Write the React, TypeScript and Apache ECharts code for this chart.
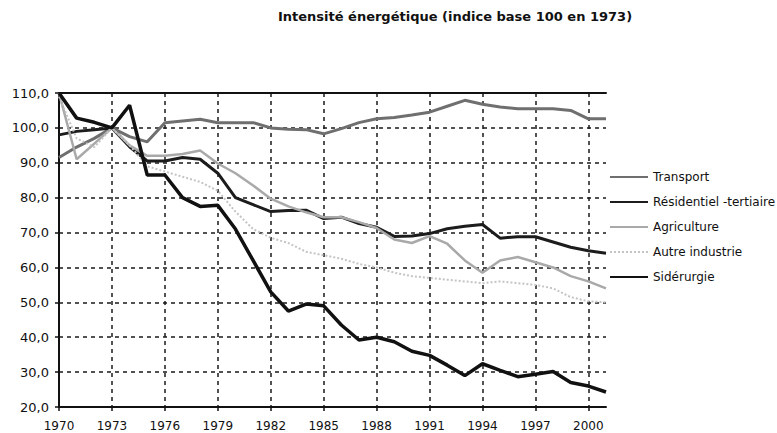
import React, { useEffect, useRef } from "react";
import * as echarts from "echarts";

const years = [
  "1970", "1971", "1972", "1973", "1974", "1975", "1976", "1977", "1978", "1979",
  "1980", "1981", "1982", "1983", "1984", "1985", "1986", "1987", "1988", "1989",
  "1990", "1991", "1992", "1993", "1994", "1995", "1996", "1997", "1998", "1999",
  "2000", "2001",
];

const transport = [
  91.5, 94.5, 97, 100, 97.5, 96, 101.5, 102, 102.5, 101.5,
  101.5, 101.5, 100, 99.6, 99.5, 98.3, 99.8, 101.5, 102.6, 103,
  103.7, 104.5, 106.2, 107.9, 106.8, 106, 105.5, 105.5, 105.5, 105,
  102.6, 102.6,
];

const residentiel = [
  98, 99, 99.5, 100, 94.6, 90.5, 90.5, 91.5, 91, 87,
  80, 78, 76, 76.3, 76.4, 74, 74.4, 72.6, 71.5, 68.9,
  69, 69.7, 71.1, 71.8, 72.3, 68.4, 68.8, 68.8, 67.3, 65.8,
  64.8, 64.1,
];

const agriculture = [
  110, 91, 95.5, 100, 95, 92, 92, 92.5, 93.5, 89.8,
  87, 83.5, 79.7, 77.5, 75.8, 74.4, 74.4, 73, 71.3, 68,
  67, 69, 66.8, 62, 58.5, 62, 63, 61.5, 60, 57.5,
  56, 54,
];

const autreIndustrie = [
  109, 97, 94.5, 100, 95, 89, 87.5, 86, 84.5, 82,
  76, 71, 68.5, 67, 64.5, 63.5, 62.5, 61, 60, 58.5,
  57.5, 57, 56.5, 56, 55.5, 56, 55.5, 55, 54, 51.5,
  50.3, 50,
];

const siderurgie = [
  110, 102.8, 101.6, 100, 106.5, 86.5, 86.5, 80, 77.5, 77.8,
  71, 62, 53, 47.5, 49.5, 49, 43.5, 39.2, 40, 38.7,
  36, 34.8, 32, 29, 32.4, 30.5, 28.7, 29.4, 30.2, 27,
  26, 24.3,
];

const seriesNames = [
  "Transport",
  "Résidentiel -tertiaire",
  "Agriculture",
  "Autre industrie",
  "Sidérurgie",
];

const titleText = "Intensité énergétique (indice base 100 en 1973)";

export default function App() {
  const ref = useRef<HTMLDivElement>(null);

  useEffect(() => {
    if (!ref.current) return;
    const chart = echarts.init(ref.current, null, { renderer: "svg" });
    const font = "DejaVu Sans";
    const gridLine = { type: [4, 4], color: "#1a1a1a", width: 1.5 };

    chart.setOption({
      animation: false,
      backgroundColor: "#ffffff",
      title: {
        text: titleText,
        left: 455,
        textAlign: "center",
        top: 10,
        padding: 0,
        textStyle: {
          fontFamily: font,
          fontWeight: "bold",
          fontSize: 13,
          color: "#111",
        },
      },
      legend: {
        orient: "vertical",
        left: 609,
        top: 171,
        padding: 0,
        itemWidth: 38,
        itemHeight: 14,
        itemGap: 13,
        data: seriesNames,
        itemStyle: { opacity: 0 },
        textStyle: { fontFamily: font, fontSize: 12, color: "#111" },
      },
      grid: { left: 59, right: 171, top: 93, bottom: 26 },
      xAxis: [
        {
          type: "category",
          data: years,
          boundaryGap: false,
          axisLine: { lineStyle: { color: "#111", width: 2 } },
          axisTick: { interval: 2, length: 4, lineStyle: { color: "#111", width: 1.5 } },
          axisLabel: { interval: 2, margin: 13, fontFamily: font, fontSize: 12, color: "#111" },
          splitLine: { show: true, interval: 2, lineStyle: gridLine },
        },
        {
          type: "category",
          data: years,
          position: "top",
          boundaryGap: false,
          axisLine: { show: true, lineStyle: { color: "#111", width: 2 } },
          axisTick: { show: false },
          axisLabel: { show: false },
          splitLine: { show: false },
        },
      ],
      yAxis: {
        type: "value",
        min: 20,
        max: 110,
        interval: 10,
        axisLine: { show: true, lineStyle: { color: "#111", width: 2 } },
        axisTick: { show: true, length: 4, lineStyle: { color: "#111", width: 1.5 } },
        axisLabel: {
          margin: 10,
          fontFamily: font,
          fontSize: 13,
          color: "#111",
          formatter: (v: number) => v.toFixed(1).replace(".", ","),
        },
        splitLine: { show: true, lineStyle: gridLine },
      },
      series: [
        {
          name: seriesNames[0],
          type: "line",
          data: transport,
          symbol: "none",
          lineStyle: { color: "#6f6f6f", width: 3 },
          itemStyle: { color: "#6f6f6f" },
        },
        {
          name: seriesNames[1],
          type: "line",
          data: residentiel,
          symbol: "none",
          lineStyle: { color: "#1c1c1c", width: 3 },
          itemStyle: { color: "#1c1c1c" },
        },
        {
          name: seriesNames[2],
          type: "line",
          data: agriculture,
          symbol: "none",
          lineStyle: { color: "#a9a9a9", width: 2.5 },
          itemStyle: { color: "#a9a9a9" },
        },
        {
          name: seriesNames[3],
          type: "line",
          data: autreIndustrie,
          symbol: "none",
          lineStyle: { color: "#c4c4c4", width: 2, type: [2, 2] },
          itemStyle: { color: "#c4c4c4" },
        },
        {
          name: seriesNames[4],
          type: "line",
          data: siderurgie,
          symbol: "none",
          lineStyle: { color: "#111111", width: 3.5 },
          itemStyle: { color: "#111111" },
        },
      ],
    });

    return () => chart.dispose();
  }, []);

  return (
    <div
      ref={ref}
      style={{ position: "fixed", left: 0, top: 0, width: 777, height: 433, background: "#fff" }}
    />
  );
}
